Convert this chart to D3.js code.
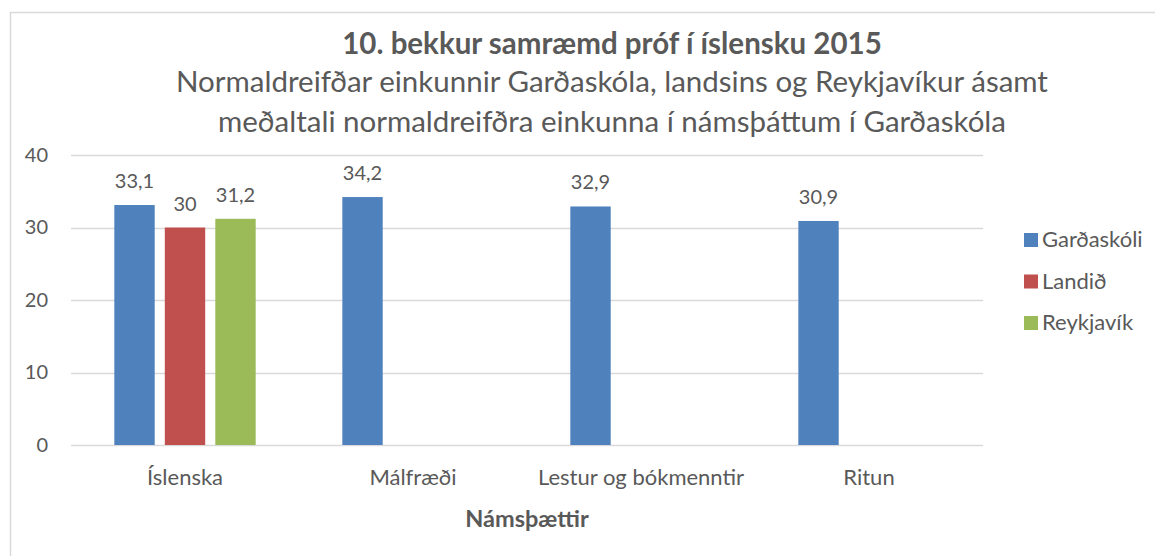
<!DOCTYPE html>
<html>
<head>
<meta charset="utf-8">
<script src="https://cdn.jsdelivr.net/npm/d3@7"></script>
<style>
  body { margin: 0; background: #fff; overflow: hidden; }
  svg { display: block; }
  text { font-family: Lato, "Noto Sans", sans-serif; fill: #595959; }
</style>
</head>
<body>
<div id="chart"></div>
<script>
const WIDTH = 1155, HEIGHT = 556;

// data
const categories = ["Íslenska", "Málfræði", "Lestur og bókmenntir", "Ritun"];
const seriesNames = ["Garðaskóli", "Landið", "Reykjavík"];
const gardaskoli = [33.1, 34.2, 32.9, 30.9];
const landid = [30, null, null, null];
const reykjavik = [31.2, null, null, null];
const yTicks = [0, 10, 20, 30, 40];
const colors = ["#4f81bd", "#c0504d", "#9bbb59"];

const titleText = "10. bekkur samræmd próf í íslensku 2015";
const subtitleLines = [
    "Normaldreifðar einkunnir Garðaskóla, landsins og Reykjavíkur ásamt",
    "meðaltali normaldreifðra einkunna í námsþáttum í Garðaskóla"
];
const xTitle = "Námsþættir";

const allSeries = [gardaskoli, landid, reykjavik];

const LABEL_SIZE = 22;
const NUM_SIZE = 20;

const margin = { top: 155, right: 172, bottom: 111, left: 71 };
const innerWidth = WIDTH - margin.left - margin.right;
const innerHeight = HEIGHT - margin.top - margin.bottom;

const svg = d3.select('#chart')
    .append('svg')
    .attr('width', WIDTH)
    .attr('height', HEIGHT);

// chart frame, the picture only shows its top and left edges
svg.append('path')
    .attr('d', `M10.5,${HEIGHT} V12.5 H${WIDTH}`)
    .attr('fill', 'none')
    .attr('stroke', '#d9d9d9')
    .attr('stroke-width', 1.5);

// Titles
svg.append('text')
    .attr('x', 612)
    .attr('y', 54)
    .attr('text-anchor', 'middle')
    .style('font-size', '29.5px')
    .style('font-weight', 'bold')
    .text(titleText);

svg.selectAll('.subtitle')
    .data(subtitleLines)
    .enter()
    .append('text')
    .attr('class', 'subtitle')
    .attr('x', 612)
    .attr('y', (d, i) => 92 + i * 39.5)
    .attr('text-anchor', 'middle')
    .style('font-size', '29.5px')
    .text(d => d);

const g = svg.append('g')
    .attr('transform', `translate(${margin.left}, ${margin.top})`);

const x0 = d3.scaleBand()
    .domain(categories)
    .range([0, innerWidth]);

const groupW = x0.bandwidth() * 0.62;
const x1 = d3.scaleBand()
    .domain(seriesNames)
    .range([(x0.bandwidth() - groupW) / 2, (x0.bandwidth() + groupW) / 2])
    .paddingInner(0.2);

const y = d3.scaleLinear()
    .domain([0, 40])
    .range([innerHeight, 0]);

// gridlines
g.selectAll('.grid')
    .data(yTicks)
    .enter()
    .append('line')
    .attr('x1', 0)
    .attr('x2', innerWidth)
    .attr('y1', d => Math.round(y(d)) + 0.5)
    .attr('y2', d => Math.round(y(d)) + 0.5)
    .attr('stroke', '#d9d9d9')
    .attr('stroke-width', 1.5);

// y axis labels
const yAxis = g.append('g')
    .call(d3.axisLeft(y).tickValues(yTicks).tickSize(0).tickPadding(23));
yAxis.select('.domain').remove();
yAxis.selectAll('text')
    .style('font-size', `${NUM_SIZE}px`)
    .style('font-family', 'Lato, sans-serif')
    .attr('fill', '#595959');

// x axis labels
const xAxis = g.append('g')
    .attr('transform', `translate(0, ${innerHeight})`)
    .call(d3.axisBottom(x0).tickSize(0).tickPadding(24));
xAxis.select('.domain').remove();
xAxis.selectAll('text')
    .style('font-size', `${LABEL_SIZE}px`)
    .style('font-family', 'Lato, sans-serif')
    .attr('fill', '#595959');

// bars
const barData = [];
categories.forEach((c, ci) => {
    seriesNames.forEach((s, si) => {
        const v = allSeries[si][ci];
        if (v !== null) barData.push({ cat: c, series: s, si: si, value: v });
    });
});

g.selectAll('.bar')
    .data(barData)
    .enter()
    .append('rect')
    .attr('class', 'bar')
    .attr('x', d => x0(d.cat) + x1(d.series))
    .attr('y', d => y(d.value))
    .attr('width', x1.bandwidth())
    .attr('height', d => y(0) - y(d.value))
    .attr('fill', d => colors[d.si]);

// value labels
g.selectAll('.vlabel')
    .data(barData)
    .enter()
    .append('text')
    .attr('class', 'vlabel')
    .attr('x', d => x0(d.cat) + x1(d.series) + x1.bandwidth() / 2)
    .attr('y', d => y(d.value) - 17)
    .attr('text-anchor', 'middle')
    .style('font-size', `${NUM_SIZE}px`)
    .text(d => String(d.value).replace('.', ','));

// axis title
svg.append('text')
    .attr('x', margin.left + innerWidth / 2)
    .attr('y', 527)
    .attr('text-anchor', 'middle')
    .style('font-size', '23.5px')
    .style('font-weight', 'bold')
    .text(xTitle);

// legend
const legend = svg.append('g')
    .attr('transform', 'translate(1024, 233)');

legend.selectAll('rect')
    .data(seriesNames)
    .enter()
    .append('rect')
    .attr('y', (d, i) => i * 41.5)
    .attr('width', 14)
    .attr('height', 14)
    .attr('fill', (d, i) => colors[i]);

legend.selectAll('text')
    .data(seriesNames)
    .enter()
    .append('text')
    .attr('x', 18)
    .attr('y', (d, i) => i * 41.5 + 14)
    .style('font-size', `${LABEL_SIZE}px`)
    .text(d => d);
</script>
</body>
</html>
